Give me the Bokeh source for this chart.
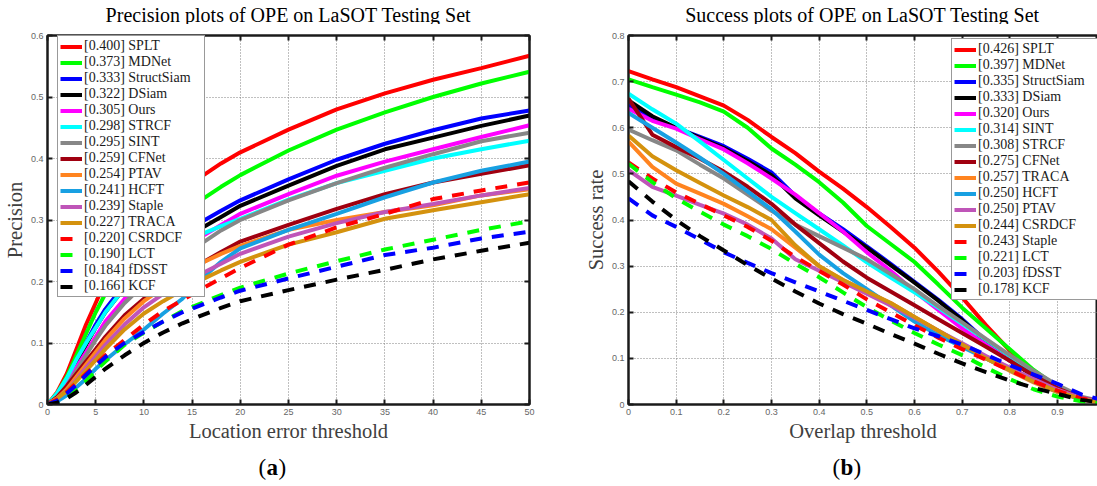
from bokeh.plotting import figure
from bokeh.models import (Range1d, FixedTicker, PrintfTickFormatter, LinearAxis,
                          Label, Legend, LegendItem)
from bokeh.layouts import row, column
from bokeh.embed import file_html
from bokeh.resources import INLINE

# ---------------- Precision plot data ----------------
prec_x = [0, 1, 2, 3, 4, 5, 6, 8, 10, 12, 14, 16, 18, 20, 25, 30, 35, 40, 45, 50]
prec_names = ["SPLT", "MDNet", "StructSiam", "DSiam", "Ours", "STRCF", "SINT", "CFNet",
              "PTAV", "HCFT", "Staple", "TRACA", "CSRDCF", "LCT", "fDSST", "KCF"]
prec_scores = ["0.400", "0.373", "0.333", "0.322", "0.305", "0.298", "0.295", "0.259",
               "0.254", "0.241", "0.239", "0.227", "0.220", "0.190", "0.184", "0.166"]
prec_SPLT = [0, 0.02, 0.05, 0.09, 0.13, 0.165, 0.20, 0.255, 0.295, 0.325, 0.35, 0.371, 0.392, 0.41, 0.447, 0.48, 0.506, 0.528, 0.547, 0.567]
prec_MDNet = [0, 0.018, 0.045, 0.08, 0.115, 0.15, 0.18, 0.23, 0.265, 0.29, 0.313, 0.333, 0.354, 0.373, 0.413, 0.447, 0.475, 0.50, 0.522, 0.541]
prec_StructSiam = [0, 0.015, 0.04, 0.07, 0.1, 0.13, 0.155, 0.195, 0.225, 0.25, 0.275, 0.297, 0.315, 0.332, 0.366, 0.398, 0.424, 0.446, 0.465, 0.478]
prec_DSiam = [0, 0.015, 0.038, 0.067, 0.097, 0.125, 0.15, 0.19, 0.218, 0.242, 0.266, 0.287, 0.305, 0.323, 0.356, 0.388, 0.415, 0.434, 0.453, 0.470]
prec_Ours = [0, 0.015, 0.035, 0.06, 0.085, 0.11, 0.135, 0.172, 0.205, 0.23, 0.253, 0.273, 0.292, 0.31, 0.342, 0.372, 0.395, 0.415, 0.435, 0.454]
prec_STRCF = [0, 0.018, 0.043, 0.073, 0.1, 0.125, 0.15, 0.19, 0.22, 0.24, 0.26, 0.277, 0.29, 0.302, 0.333, 0.36, 0.38, 0.40, 0.415, 0.429]
prec_SINT = [0, 0.012, 0.03, 0.055, 0.08, 0.105, 0.128, 0.165, 0.195, 0.222, 0.243, 0.262, 0.283, 0.30, 0.332, 0.36, 0.385, 0.407, 0.428, 0.442]
prec_CFNet = [0, 0.012, 0.03, 0.05, 0.07, 0.09, 0.11, 0.145, 0.172, 0.195, 0.213, 0.23, 0.248, 0.265, 0.292, 0.318, 0.342, 0.361, 0.375, 0.389]
prec_PTAV = [0, 0.01, 0.025, 0.045, 0.065, 0.085, 0.105, 0.14, 0.168, 0.19, 0.21, 0.23, 0.245, 0.258, 0.284, 0.3, 0.313, 0.324, 0.34, 0.35]
prec_HCFT = [0, 0.005, 0.015, 0.028, 0.042, 0.058, 0.072, 0.098, 0.122, 0.148, 0.172, 0.205, 0.232, 0.254, 0.284, 0.31, 0.337, 0.361, 0.38, 0.395]
prec_Staple = [0, 0.01, 0.022, 0.04, 0.06, 0.078, 0.097, 0.13, 0.158, 0.18, 0.198, 0.213, 0.229, 0.245, 0.273, 0.295, 0.313, 0.326, 0.34, 0.352]
prec_TRACA = [0, 0.01, 0.022, 0.038, 0.055, 0.072, 0.09, 0.122, 0.148, 0.168, 0.186, 0.203, 0.218, 0.232, 0.26, 0.28, 0.302, 0.316, 0.329, 0.342]
prec_CSRDCF = [0, 0.008, 0.02, 0.035, 0.05, 0.065, 0.08, 0.105, 0.13, 0.152, 0.17, 0.188, 0.205, 0.222, 0.26, 0.288, 0.31, 0.334, 0.348, 0.361]
prec_LCT = [0, 0.004, 0.012, 0.024, 0.038, 0.055, 0.07, 0.097, 0.117, 0.135, 0.152, 0.165, 0.178, 0.19, 0.213, 0.233, 0.252, 0.268, 0.284, 0.298]
prec_fDSST = [0, 0.006, 0.018, 0.032, 0.048, 0.063, 0.077, 0.1, 0.118, 0.135, 0.15, 0.162, 0.174, 0.185, 0.205, 0.224, 0.243, 0.255, 0.27, 0.281]
prec_KCF = [0, 0.003, 0.01, 0.02, 0.032, 0.045, 0.058, 0.08, 0.1, 0.117, 0.132, 0.145, 0.157, 0.168, 0.186, 0.203, 0.219, 0.236, 0.25, 0.263]
prec_series = [prec_SPLT, prec_MDNet, prec_StructSiam, prec_DSiam, prec_Ours, prec_STRCF,
               prec_SINT, prec_CFNet, prec_PTAV, prec_HCFT, prec_Staple, prec_TRACA,
               prec_CSRDCF, prec_LCT, prec_fDSST, prec_KCF]

# ---------------- Success plot data ----------------
succ_x = [0, 0.05, 0.1, 0.15, 0.2, 0.25, 0.3, 0.35, 0.4, 0.45, 0.5, 0.55, 0.6, 0.65,
          0.7, 0.75, 0.8, 0.85, 0.9, 0.95, 1.0]
succ_names = ["SPLT", "MDNet", "StructSiam", "DSiam", "Ours", "SINT", "STRCF", "CFNet",
              "TRACA", "HCFT", "PTAV", "CSRDCF", "Staple", "LCT", "fDSST", "KCF"]
succ_scores = ["0.426", "0.397", "0.335", "0.333", "0.320", "0.314", "0.308", "0.275",
               "0.257", "0.250", "0.250", "0.244", "0.243", "0.221", "0.203", "0.178"]
succ_SPLT = [0.723, 0.705, 0.688, 0.668, 0.648, 0.617, 0.58, 0.545, 0.505, 0.468, 0.428, 0.385, 0.34, 0.288, 0.232, 0.172, 0.117, 0.072, 0.038, 0.015, 0.004]
succ_MDNet = [0.705, 0.688, 0.672, 0.655, 0.635, 0.6, 0.555, 0.52, 0.482, 0.438, 0.387, 0.348, 0.309, 0.26, 0.21, 0.165, 0.12, 0.075, 0.038, 0.015, 0.004]
succ_StructSiam = [0.648, 0.62, 0.6, 0.58, 0.56, 0.533, 0.503, 0.452, 0.414, 0.38, 0.343, 0.305, 0.266, 0.227, 0.185, 0.138, 0.097, 0.063, 0.035, 0.014, 0.004]
succ_DSiam = [0.659, 0.625, 0.6, 0.578, 0.556, 0.528, 0.497, 0.447, 0.41, 0.375, 0.34, 0.302, 0.264, 0.225, 0.183, 0.135, 0.095, 0.062, 0.035, 0.014, 0.004]
succ_Ours = [0.641, 0.615, 0.598, 0.575, 0.553, 0.523, 0.49, 0.455, 0.415, 0.375, 0.33, 0.29, 0.245, 0.205, 0.165, 0.13, 0.095, 0.065, 0.037, 0.015, 0.004]
succ_SINT = [0.674, 0.64, 0.609, 0.57, 0.53, 0.49, 0.45, 0.415, 0.38, 0.345, 0.308, 0.275, 0.243, 0.21, 0.175, 0.14, 0.105, 0.07, 0.04, 0.015, 0.004]
succ_STRCF = [0.596, 0.573, 0.551, 0.52, 0.49, 0.455, 0.42, 0.39, 0.365, 0.34, 0.315, 0.283, 0.25, 0.213, 0.178, 0.142, 0.107, 0.073, 0.042, 0.017, 0.005]
succ_CFNet = [0.663, 0.585, 0.558, 0.533, 0.505, 0.472, 0.435, 0.39, 0.35, 0.31, 0.275, 0.245, 0.215, 0.185, 0.155, 0.125, 0.095, 0.063, 0.035, 0.014, 0.004]
succ_TRACA = [0.57, 0.515, 0.479, 0.457, 0.435, 0.408, 0.38, 0.34, 0.3, 0.27, 0.245, 0.22, 0.19, 0.16, 0.13, 0.1, 0.073, 0.048, 0.027, 0.011, 0.003]
succ_HCFT = [0.632, 0.6, 0.568, 0.535, 0.5, 0.462, 0.423, 0.375, 0.325, 0.285, 0.25, 0.215, 0.18, 0.15, 0.125, 0.1, 0.075, 0.05, 0.028, 0.012, 0.003]
succ_PTAV = [0.508, 0.472, 0.453, 0.433, 0.414, 0.39, 0.36, 0.315, 0.29, 0.265, 0.24, 0.215, 0.188, 0.16, 0.133, 0.105, 0.08, 0.055, 0.032, 0.014, 0.004]
succ_CSRDCF = [0.583, 0.538, 0.508, 0.48, 0.453, 0.428, 0.4, 0.345, 0.3, 0.27, 0.245, 0.22, 0.19, 0.16, 0.13, 0.1, 0.075, 0.05, 0.028, 0.012, 0.003]
succ_Staple = [0.525, 0.49, 0.46, 0.435, 0.41, 0.385, 0.355, 0.32, 0.29, 0.26, 0.228, 0.2, 0.172, 0.145, 0.12, 0.097, 0.074, 0.05, 0.03, 0.013, 0.004]
succ_LCT = [0.522, 0.482, 0.447, 0.418, 0.39, 0.365, 0.337, 0.305, 0.276, 0.243, 0.211, 0.182, 0.155, 0.13, 0.107, 0.08, 0.055, 0.033, 0.017, 0.007, 0.002]
succ_fDSST = [0.447, 0.41, 0.385, 0.358, 0.33, 0.307, 0.285, 0.265, 0.245, 0.225, 0.205, 0.185, 0.165, 0.148, 0.13, 0.108, 0.085, 0.065, 0.045, 0.022, 0.008]
succ_KCF = [0.484, 0.44, 0.40, 0.365, 0.334, 0.302, 0.273, 0.245, 0.219, 0.196, 0.175, 0.153, 0.132, 0.11, 0.089, 0.07, 0.052, 0.036, 0.023, 0.01, 0.003]
succ_series = [succ_SPLT, succ_MDNet, succ_StructSiam, succ_DSiam, succ_Ours, succ_SINT,
               succ_STRCF, succ_CFNet, succ_TRACA, succ_HCFT, succ_PTAV, succ_CSRDCF,
               succ_Staple, succ_LCT, succ_fDSST, succ_KCF]

prec_xticks = [0, 5, 10, 15, 20, 25, 30, 35, 40, 45, 50]
prec_yticks = [0, 0.1, 0.2, 0.3, 0.4, 0.5, 0.6]
succ_xticks = [0, 0.1, 0.2, 0.3, 0.4, 0.5, 0.6, 0.7, 0.8, 0.9, 1.0]
succ_yticks = [0, 0.1, 0.2, 0.3, 0.4, 0.5, 0.6, 0.7, 0.8]

prec_title = "Precision plots of OPE on LaSOT Testing Set"
succ_title = "Success plots of OPE on LaSOT Testing Set"

# styles by rank
rank_colors = ["#FF0000", "#00FF00", "#0000FF", "#000000", "#FF00FF", "#00FFFF", "#878787",
               "#A00010", "#FF8420", "#18A0E2", "#BF55B8", "#D4920E",
               "#FF0000", "#00FF00", "#0000FF", "#000000"]
rank_dash = ["solid"] * 12 + ["12 10"] * 4

SERIF = "Liberation Serif"
SANS = "Liberation Sans"
HEAD_H = 24


def style_axis(ax, ticks, show_labels=True):
    ax.ticker = FixedTicker(ticks=ticks)
    ax.formatter = PrintfTickFormatter(format="%g")
    ax.major_tick_in = 5
    ax.major_tick_out = 0
    ax.minor_tick_line_color = None
    ax.major_tick_line_color = "#1a1a1a"
    ax.major_tick_line_width = 2
    ax.axis_line_color = "#1a1a1a"
    ax.axis_line_width = 2
    ax.major_label_text_font = SANS
    ax.major_label_text_font_size = "9px"
    ax.major_label_text_color = "#666666" if show_labels else None
    ax.major_label_standoff = 4
    ax.axis_label_text_font = SERIF
    ax.axis_label_text_font_size = "20.5px"
    ax.axis_label_text_font_style = "normal"
    ax.axis_label_text_color = "#404040"
    ax.axis_label_standoff = 2


def make_panel(width, x_end, y_end, xticks, yticks, xs, series, names, scores,
               xlabel, ylabel, border_left, border_right, border_top,
               legend_x, legend_y, right_axis):
    p = figure(width=width, height=452 - HEAD_H, x_range=Range1d(0, x_end),
               y_range=Range1d(0, y_end),
               output_backend="svg", toolbar_location=None,
               min_border_left=border_left, min_border_right=border_right,
               min_border_top=border_top, min_border_bottom=48)
    p.outline_line_color = "#1a1a1a"
    p.outline_line_width = 2
    p.background_fill_color = "#FFFFFF"
    p.border_fill_color = "#FFFFFF"
    for g in (p.xgrid[0], p.ygrid[0]):
        g.grid_line_color = "#808080"
        g.grid_line_dash = "1 2"
        g.grid_line_width = 1
    p.xgrid[0].ticker = FixedTicker(ticks=xticks)
    p.ygrid[0].ticker = FixedTicker(ticks=yticks)
    style_axis(p.xaxis[0], xticks)
    style_axis(p.yaxis[0], yticks)
    p.xaxis[0].axis_label = xlabel
    p.yaxis[0].axis_label = ylabel
    top = LinearAxis()
    style_axis(top, xticks, show_labels=False)
    top.major_label_standoff = 0
    p.add_layout(top, "above")
    if right_axis:
        ra = LinearAxis()
        style_axis(ra, yticks, show_labels=False)
        ra.major_label_standoff = 0
        p.add_layout(ra, "right")

    renderers = []
    for i, ys in enumerate(series):
        r = p.line(xs, ys, line_color=rank_colors[i], line_width=4,
                   line_dash=rank_dash[i])
        renderers.append(r)
    items = [LegendItem(label="[%s] %s" % (scores[i], names[i]), renderers=[renderers[i]])
             for i in range(len(names))]
    leg = Legend(items=items, location=(legend_x, legend_y))
    leg.label_text_font = SERIF
    leg.label_text_font_size = "14px"
    leg.label_text_color = "#1a1a1a"
    leg.glyph_width = 22
    leg.glyph_height = 15
    leg.label_height = 15
    leg.label_width = 118
    leg.label_standoff = 2
    leg.spacing = 0
    leg.padding = 2
    leg.margin = 0
    leg.border_line_color = "#333333"
    leg.border_line_width = 1
    leg.background_fill_color = "#FFFFFF"
    leg.background_fill_alpha = 1
    p.add_layout(leg, "center")
    return p


def make_textbar(width, height, pieces, y_mid):
    c = figure(width=width, height=height, x_range=Range1d(0, width),
               y_range=Range1d(0, height),
               output_backend="svg", toolbar_location=None, min_border=0)
    c.axis.visible = False
    c.grid.visible = False
    c.outline_line_color = None
    for (x, txt, size, style, align) in pieces:
        c.add_layout(Label(x=x, y=height - y_mid, text=txt, text_baseline="middle",
                           text_align=align, text_font=SERIF, text_font_size=size,
                           text_font_style=style, text_color="#000000"))
    return c


p1 = make_panel(560, 50, 0.6, prec_xticks, prec_yticks, prec_x, prec_series, prec_names,
                prec_scores, "Location error threshold", "Precision", 47, 31, 31 - HEAD_H,
                10, 107, True)
p2 = make_panel(537, 0.984, 0.8, succ_xticks, succ_yticks, succ_x, succ_series, succ_names,
                succ_scores, "Overlap threshold", "Success rate", 68, 0, 35 - HEAD_H,
                323, 104, False)
h1 = make_textbar(560, HEAD_H, [(288, prec_title, "20px", "normal", "center")], 14)
h2 = make_textbar(537, HEAD_H, [(862 - 560, succ_title, "20px", "normal", "center")], 14)
c1 = make_textbar(560, 34, [(258, "(", "23px", "normal", "left"),
                            (266, "a", "23px", "bold", "left"),
                            (278, ")", "23px", "normal", "left")], 15)
c2 = make_textbar(537, 34, [(272, "(", "23px", "normal", "left"),
                            (280, "b", "23px", "bold", "left"),
                            (293, ")", "23px", "normal", "left")], 15)

layout = column(row(h1, h2), row(p1, p2), row(c1, c2))
open("out.html", "w").write(file_html(layout, INLINE))
